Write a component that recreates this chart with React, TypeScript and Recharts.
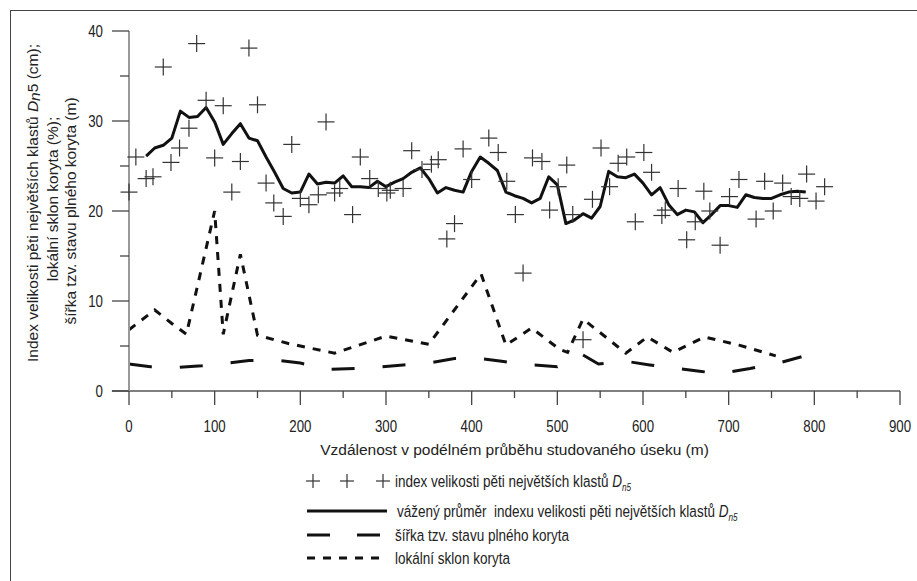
import React from 'react';
import { ComposedChart, Line, Scatter, XAxis, YAxis, Legend, ReferenceLine } from 'recharts';

// index velikosti pěti největších klastů Dn5 — [vzdálenost m, cm]
const clastPoints = [
  [0, 22.1], [8, 26.0], [20, 23.6], [28, 23.8], [40, 36.0], [49, 25.4], [59, 27.0], [70, 29.2],
  [79, 38.6], [90, 32.3], [100, 25.9], [110, 31.7], [120, 22.1], [130, 25.5], [140, 38.1], [150, 31.8],
  [160, 23.1], [169, 20.9], [180, 19.4], [190, 27.4], [200, 21.4], [210, 20.7], [221, 21.8], [230, 29.9],
  [240, 22.0], [246, 22.5], [261, 19.6], [270, 26.0], [281, 23.6], [291, 22.5], [301, 22.0], [305, 22.3],
  [320, 22.5], [330, 26.7], [342, 24.6], [353, 25.2], [361, 25.7], [371, 16.9], [380, 18.6], [390, 26.9],
  [400, 23.5], [420, 28.1], [431, 26.5], [441, 23.3], [451, 19.6], [460, 13.1], [471, 25.9], [482, 25.5],
  [491, 20.1], [501, 22.7], [511, 25.1], [518, 19.6], [530, 5.7], [541, 21.3], [551, 27.0], [561, 22.7],
  [571, 25.3], [581, 26.0], [591, 18.8], [601, 26.5], [610, 24.3], [622, 19.5], [626, 20.1], [641, 22.5],
  [651, 16.8], [661, 18.8], [671, 22.2], [678, 20.0], [690, 16.2], [701, 21.6], [712, 23.5], [732, 19.1],
  [742, 23.3], [752, 20.0], [763, 23.1], [773, 21.6], [783, 21.4], [791, 24.1], [802, 21.1], [812, 22.7],
];

// vážený průměr indexu Dn5
const meanPoints = [
  [20, 26.1], [30, 27.0], [40, 27.3], [50, 28.1], [60, 31.1], [70, 30.4], [80, 30.5], [90, 31.5],
  [100, 29.9], [110, 27.4], [120, 28.6], [130, 29.7], [140, 28.1], [150, 27.8], [160, 26.0], [170, 24.3],
  [180, 22.5], [190, 22.0], [200, 22.1], [210, 24.1], [220, 23.0], [230, 23.2], [240, 23.1], [250, 23.9],
  [260, 22.7], [270, 22.7], [280, 22.6], [290, 23.3], [300, 22.7], [310, 23.2], [320, 23.6], [330, 24.3],
  [340, 24.8], [350, 23.6], [360, 22.0], [370, 22.6], [380, 22.3], [390, 22.1], [400, 24.4], [410, 26.0],
  [420, 25.3], [430, 24.5], [440, 22.1], [450, 21.7], [460, 21.4], [470, 20.9], [480, 21.4], [490, 23.8],
  [500, 22.9], [510, 18.6], [520, 19.0], [530, 19.7], [540, 19.2], [550, 20.5], [560, 24.4], [570, 23.8],
  [580, 23.7], [590, 24.1], [600, 23.1], [610, 21.8], [620, 22.6], [630, 20.7], [640, 19.6], [650, 20.1],
  [660, 19.9], [670, 18.7], [680, 19.6], [690, 20.6], [700, 20.6], [710, 20.4], [720, 21.8], [730, 21.5],
  [740, 21.4], [750, 21.4], [760, 21.8], [770, 22.1], [780, 22.2], [790, 22.1],
];

// šířka tzv. stavu plného koryta (m)
const widthPoints = [
  [0, 3.0], [25, 2.7], [55, 2.6], [85, 2.8], [115, 3.1], [140, 3.4], [175, 3.4], [200, 3.1],
  [235, 2.4], [265, 2.5], [295, 2.7], [320, 2.9], [355, 3.2], [380, 3.6], [410, 3.6], [435, 3.3],
  [470, 2.9], [500, 2.7], [530, 4.0], [548, 3.0], [580, 3.3], [608, 2.9], [640, 2.5], [666, 2.2],
  [690, 1.9], [700, 2.1], [725, 2.5], [758, 3.1], [785, 3.8],
];

// lokální sklon koryta (%)
const slopePoints = [
  [0, 6.8], [30, 9.0], [50, 7.5], [67, 6.3], [100, 20.0], [110, 6.3], [130, 15.2], [150, 6.2],
  [185, 5.3], [240, 4.2], [300, 6.1], [350, 5.2], [411, 13.0], [440, 5.1], [470, 7.0], [503, 4.6],
  [512, 4.3], [530, 8.0], [580, 4.2], [605, 6.0], [635, 4.3], [672, 6.0], [712, 5.1], [755, 3.9],
];

const xTicks = [0, 50, 100, 150, 200, 250, 300, 350, 400, 450, 500, 550, 600, 650, 700, 750, 800, 850, 900];
const yTicks = [0, 5, 10, 15, 20, 25, 30, 35, 40];

const toRows = (pts: number[][]) => pts.map(([x, y]) => ({ x, y }));
const clastData = toRows(clastPoints);
const meanData = toRows(meanPoints);
const widthData = toRows(widthPoints);
const slopeData = toRows(slopePoints);

const FONT = '"Liberation Sans", Arial, sans-serif';

// the source figure uses a narrow sans, so squeeze the glyphs horizontally
const NarrowText = ({ x, y, size, sx = 0.82, anchor = 'start', children }: any) => (
  <text
    transform={`translate(${x},${y}) scale(${sx},1)`}
    fontSize={size}
    fontFamily={FONT}
    textAnchor={anchor}
    fill="#222"
  >
    {children}
  </text>
);

const Cross = (props: any) => {
  const { cx, cy } = props;
  if (cx == null || cy == null) return null;
  return (
    <g stroke="#333" strokeWidth={1.2}>
      <line x1={cx - 8.5} x2={cx + 8.5} y1={cy} y2={cy} />
      <line x1={cx} x2={cx} y1={cy - 8.5} y2={cy + 8.5} />
    </g>
  );
};

const XTick = (props: any) => {
  const { x, y, payload } = props;
  const major = payload.value % 100 === 0;
  return (
    <g>
      <line x1={x} x2={x} y1={y} y2={y + (major ? 14 : 7)} stroke="#444" strokeWidth={1.3} />
      {major && (
        <NarrowText x={x} y={y + 41} size={17} sx={0.78} anchor="middle">
          {payload.value}
        </NarrowText>
      )}
    </g>
  );
};

const YTick = (props: any) => {
  const { x, y, payload } = props;
  const major = payload.value % 10 === 0;
  return (
    <g>
      <line x1={x - (major ? 17 : 9)} x2={x} y1={y} y2={y} stroke="#444" strokeWidth={1.3} />
      {major && (
        <NarrowText x={x - 26} y={y + 6} size={17} sx={0.78} anchor="end">
          {payload.value}
        </NarrowText>
      )}
    </g>
  );
};

const YTitle = () => (
  <svg width={100} height={420} style={{ position: 'absolute', left: 0, top: 0, pointerEvents: 'none' }}>
    <g fontFamily={FONT} fontSize={15.5} fill="#222" textAnchor="middle">
      <text transform="translate(38,203) rotate(-90)">
        Index velikosti pěti největších klastů <tspan fontStyle="italic">D</tspan>
        <tspan fontStyle="italic" dy={2}>n</tspan>
        <tspan dy={-2}>5</tspan> (cm);
      </text>
      <text transform="translate(58,199) rotate(-90)">lokální sklon koryta (%);</text>
      <text transform="translate(76,211) rotate(-90)">šířka tzv. stavu plného koryta (m)</text>
    </g>
  </svg>
);

const LegendBox = () => (
  <svg width={480} height={100}>
    <g stroke="#333" strokeWidth={1.2}>
      {[13, 47, 83].map((cx) => (
        <g key={cx}>
          <line x1={cx - 7} x2={cx + 7} y1={13} y2={13} />
          <line x1={cx} x2={cx} y1={6} y2={20} />
        </g>
      ))}
    </g>
    <NarrowText x={95} y={19} size={16.5}>
      index velikosti pěti největších klastů <tspan fontStyle="italic">D</tspan>
      <tspan fontStyle="italic" fontSize={10} dy={4}>n5</tspan>
    </NarrowText>
    <line x1={7} x2={87} y1={43} y2={43} stroke="#111" strokeWidth={3} />
    <NarrowText x={97} y={49} size={16.5}>
      vážený průměr{'\u00a0 '}indexu velikosti pěti největších klastů <tspan fontStyle="italic">D</tspan>
      <tspan fontStyle="italic" fontSize={10} dy={4}>n5</tspan>
    </NarrowText>
    <line x1={7} x2={80} y1={67} y2={67} stroke="#111" strokeWidth={3} strokeDasharray="23 27" />
    <NarrowText x={95} y={73} size={16.5}>šířka tzv. stavu plného koryta</NarrowText>
    <line x1={7} x2={80} y1={90} y2={90} stroke="#111" strokeWidth={3} strokeDasharray="8 8" />
    <NarrowText x={95} y={96} size={16.5}>lokální sklon koryta</NarrowText>
  </svg>
);

export default function App() {
  return (
    <div style={{ position: 'absolute', left: 0, top: 0, width: 917, height: 581, background: '#fff', overflow: 'hidden' }}>
      <div style={{ position: 'absolute', left: 10, top: 10, width: 920, height: 580, borderLeft: '1px solid #444', borderTop: '1px solid #444' }} />
      <ComposedChart width={917} height={581} margin={{ top: 31, right: 17, bottom: 120, left: 69 }}>
        <XAxis
          type="number"
          dataKey="x"
          domain={[0, 900]}
          ticks={xTicks}
          interval={0}
          height={70}
          tickSize={0}
          tickMargin={0}
          tickLine={false}
          tick={<XTick />}
          axisLine={{ stroke: '#555', strokeWidth: 1.5 }}
          label={{
            value: 'Vzdálenost v podélném průběhu studovaného úseku (m)',
            position: 'insideBottom',
            offset: 6,
            style: { fontFamily: FONT, fontSize: 15.5, fill: '#222' },
          }}
        />
        <YAxis
          type="number"
          dataKey="y"
          domain={[0, 40]}
          ticks={yTicks}
          interval={0}
          width={60}
          tickSize={0}
          tickMargin={0}
          tickLine={false}
          tick={<YTick />}
          axisLine={{ stroke: '#999', strokeWidth: 2 }}
        />
        <ReferenceLine
          segment={[{ x: -20, y: 0 }, { x: 0, y: 0 }]}
          ifOverflow="visible"
          stroke="#555"
          strokeWidth={1.5}
        />
        <Scatter data={clastData} dataKey="y" shape={Cross} isAnimationActive={false} />
        <Line
          data={slopeData}
          dataKey="y"
          type="linear"
          stroke="#111"
          strokeWidth={3}
          strokeDasharray="8 8"
          dot={false}
          activeDot={false}
          isAnimationActive={false}
        />
        <Line
          data={widthData}
          dataKey="y"
          type="linear"
          stroke="#111"
          strokeWidth={3}
          strokeDasharray="23 28"
          dot={false}
          activeDot={false}
          isAnimationActive={false}
        />
        <Line
          data={meanData}
          dataKey="y"
          type="linear"
          stroke="#111"
          strokeWidth={3}
          strokeLinejoin="round"
          dot={false}
          activeDot={false}
          isAnimationActive={false}
        />
        <Legend
          layout="horizontal"
          verticalAlign="middle"
          align="center"
          content={() => <LegendBox />}
          wrapperStyle={{ position: 'absolute', left: 300, top: 468, width: 480, height: 100 }}
        />
      </ComposedChart>
      <YTitle />
    </div>
  );
}
